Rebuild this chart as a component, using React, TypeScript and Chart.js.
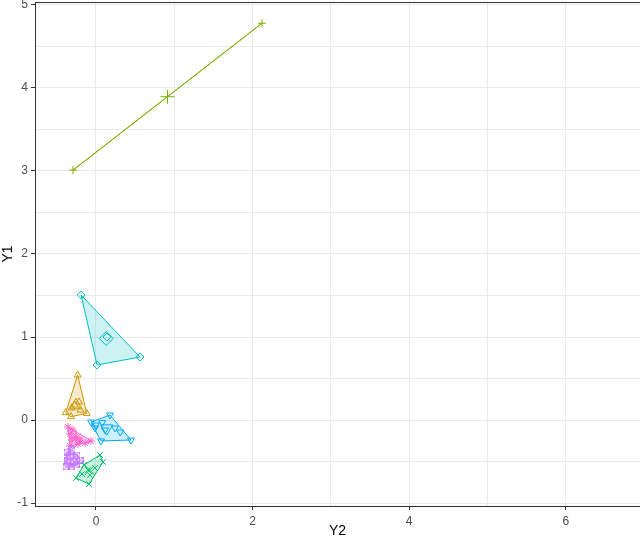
import { useEffect, useRef } from 'react';
import { Chart, registerables } from 'chart.js';
Chart.register(...registerables);

// Axis ticks
const xMajorTicks = [0, 2, 4, 6];
const xGridTicks = [0, 1, 2, 3, 4, 5, 6];
const yMajorTicks = [-1, 0, 1, 2, 3, 4, 5];
const yGridTicks = [-1, -0.5, 0, 0.5, 1, 1.5, 2, 2.5, 3, 3.5, 4, 4.5, 5];

// Clusters (Y2 = horizontal, Y1 = vertical)
const clusterIds = ['2', '3', '4', '5', '6', '7', '8'];
const clusterColors = ['#CD9600', '#7CAE00', '#00BE67', '#00BFC4', '#00A9FF', '#C77CFF', '#FF61CC'];
const clusterShapes = ['triangle', 'cross', 'crossRot', 'rectRot', 'triangleDown', 'rectCross', 'star'];

const c2Y2 = [-0.234, -0.387, -0.119, -0.319, -0.268, -0.217, -0.31, -0.2];
const c2Y1 = [0.542, 0.088, 0.08, 0.04, 0.18, 0.217, 0.145, 0.12];

const c3Y2 = [-0.294, 2.12];
const c3Y1 = [3.01, 4.78];

const c4Y2 = [0.051, 0.089, -0.089, -0.255, -0.153, -0.102, -0.013, -0.077, -0.179];
const c4Y1 = [-0.422, -0.506, -0.771, -0.699, -0.542, -0.602, -0.578, -0.663, -0.651];

const c5Y2 = [-0.19, 0.562, 0.013, 0.14];
const c5Y1 = [1.506, 0.759, 0.663, 1.0];

const c6Y2 = [-0.064, 0.179, 0.447, 0.064, 0.0, 0.115, 0.243, -0.013, 0.31, 0.08];
const c6Y1 = [-0.024, 0.06, -0.241, -0.253, -0.06, -0.12, -0.096, -0.096, -0.145, -0.03];

const c7Y2 = [-0.37, -0.307, -0.243, -0.358, -0.281, -0.204, -0.383, -0.307, -0.332, -0.255];
const c7Y1 = [-0.386, -0.361, -0.422, -0.482, -0.506, -0.482, -0.566, -0.566, -0.434, -0.542];

const c8Y2 = [-0.358, -0.332, -0.307, -0.268, -0.204, -0.14, -0.064, -0.332, -0.23, -0.294];
const c8Y1 = [-0.084, -0.169, -0.241, -0.205, -0.241, -0.277, -0.253, -0.313, -0.289, -0.12];

const clusterY2 = [c2Y2, c3Y2, c4Y2, c5Y2, c6Y2, c7Y2, c8Y2];
const clusterY1 = [c2Y1, c3Y1, c4Y1, c5Y1, c6Y1, c7Y1, c8Y1];

const xTitle = 'Y2';
const yTitle = 'Y1';

type P = { x: number; y: number };

function convexHull(pts: P[]): P[] {
  const p = [...pts].sort((a, b) => (a.x === b.x ? a.y - b.y : a.x - b.x));
  if (p.length < 3) return p;
  const cross = (o: P, a: P, b: P) => (a.x - o.x) * (b.y - o.y) - (a.y - o.y) * (b.x - o.x);
  const lower: P[] = [];
  for (const q of p) {
    while (lower.length >= 2 && cross(lower[lower.length - 2], lower[lower.length - 1], q) <= 0) lower.pop();
    lower.push(q);
  }
  const upper: P[] = [];
  for (let i = p.length - 1; i >= 0; i--) {
    const q = p[i];
    while (upper.length >= 2 && cross(upper[upper.length - 2], upper[upper.length - 1], q) <= 0) upper.pop();
    upper.push(q);
  }
  upper.pop();
  lower.pop();
  return lower.concat(upper);
}

function hexA(hex: string, a: number) {
  const r = parseInt(hex.slice(1, 3), 16);
  const g = parseInt(hex.slice(3, 5), 16);
  const b = parseInt(hex.slice(5, 7), 16);
  return `rgba(${r},${g},${b},${a})`;
}

function makeRectCross(color: string, size: number) {
  const c = document.createElement('canvas');
  c.width = size;
  c.height = size;
  const g = c.getContext('2d')!;
  g.strokeStyle = color;
  g.lineWidth = 1;
  g.strokeRect(0.5, 0.5, size - 1, size - 1);
  g.beginPath();
  g.moveTo(0.5, 0.5);
  g.lineTo(size - 0.5, size - 0.5);
  g.moveTo(size - 0.5, 0.5);
  g.lineTo(0.5, size - 0.5);
  g.stroke();
  return c;
}

export default function App() {
  const ref = useRef<HTMLCanvasElement>(null);

  useEffect(() => {
    const canvas = ref.current!;
    const points = clusterY2.map((xs, i) => xs.map((x, j) => ({ x, y: clusterY1[i][j] })));
    const centers = points.map((pts) => ({
      x: pts.reduce((s, p) => s + p.x, 0) / pts.length,
      y: pts.reduce((s, p) => s + p.y, 0) / pts.length,
    }));

    const datasets: any[] = [];
    clusterIds.forEach((id, i) => {
      const color = clusterColors[i];
      const shape = clusterShapes[i];
      const mk = (sz: number) => {
        if (shape === 'rectCross') return { pointStyle: makeRectCross(color, sz), pointRotation: 0 };
        if (shape === 'triangleDown') return { pointStyle: 'triangle', pointRotation: 180 };
        return { pointStyle: shape, pointRotation: 0 };
      };
      datasets.push({
        label: 'Cluster ' + id,
        data: points[i],
        borderColor: color,
        backgroundColor: 'rgba(0,0,0,0)',
        borderWidth: 1,
        pointRadius: 4,
        ...mk(7),
      });
      datasets.push({
        label: 'Center ' + id,
        data: [centers[i]],
        borderColor: color,
        backgroundColor: 'rgba(0,0,0,0)',
        borderWidth: 1,
        pointRadius: 7,
        ...mk(11),
      });
    });

    const hullPlugin = {
      id: 'hulls',
      beforeDatasetsDraw(chart: any) {
        const { ctx, scales } = chart;
        const xs = scales.x;
        const ys = scales.y;
        ctx.save();
        ctx.beginPath();
        ctx.rect(chart.chartArea.left, chart.chartArea.top, chart.chartArea.right - chart.chartArea.left, chart.chartArea.bottom - chart.chartArea.top);
        ctx.clip();
        points.forEach((pts, i) => {
          const hull = convexHull(pts);
          ctx.beginPath();
          hull.forEach((p, k) => {
            const px = xs.getPixelForValue(p.x);
            const py = ys.getPixelForValue(p.y);
            if (k === 0) ctx.moveTo(px, py);
            else ctx.lineTo(px, py);
          });
          ctx.closePath();
          ctx.fillStyle = hexA(clusterColors[i], 0.2);
          ctx.fill();
          ctx.strokeStyle = clusterColors[i];
          ctx.lineWidth = 1;
          ctx.stroke();
        });
        ctx.restore();
      },
      afterDraw(chart: any) {
        const { ctx, chartArea } = chart;
        ctx.save();
        ctx.strokeStyle = '#333333';
        ctx.lineWidth = 1;
        ctx.beginPath();
        ctx.moveTo(chartArea.left, chartArea.top + 0.5);
        ctx.lineTo(chartArea.right, chartArea.top + 0.5);
        ctx.stroke();
        ctx.restore();
      },
    };

    const tickFont = { family: 'Liberation Sans, Arial, sans-serif', size: 12 };
    const titleFont = { family: 'Liberation Sans, Arial, sans-serif', size: 14 };

    const chart = new Chart(canvas, {
      type: 'scatter',
      data: { datasets },
      plugins: [hullPlugin],
      options: {
        animation: false,
        responsive: false,
        layout: { autoPadding: false, padding: { top: 2, right: 0, left: 0, bottom: 0 } },
        plugins: { legend: { display: false }, tooltip: { enabled: false } },
        scales: {
          x: {
            type: 'linear',
            min: -0.779,
            max: 6.948,
            afterBuildTicks: (s: any) => {
              s.ticks = xGridTicks.map((v) => ({ value: v }));
            },
            afterFit: (s: any) => {
              s.height = 34;
              s.paddingLeft = 0;
              s.paddingRight = 0;
            },
            ticks: {
              autoSkip: false,
              maxRotation: 0,
              padding: 4,
              color: '#4D4D4D',
              font: tickFont,
              callback: (v: any) => (xMajorTicks.includes(Number(v)) ? String(v) : ''),
            },
            grid: {
              color: '#EBEBEB',
              lineWidth: 1,
              tickLength: 4,
              tickColor: (c: any) => (xMajorTicks.includes(c.tick?.value) ? '#333333' : 'rgba(0,0,0,0)'),
            },
            border: { display: true, color: '#333333', width: 1 },
            title: { display: true, text: xTitle, color: '#000000', font: titleFont, padding: { top: 0, bottom: 0 } },
          },
          y: {
            type: 'linear',
            min: -1.036,
            max: 5.036,
            afterBuildTicks: (s: any) => {
              s.ticks = yGridTicks.map((v) => ({ value: v }));
            },
            afterFit: (s: any) => {
              s.width = 35;
              s.paddingTop = 0;
              s.paddingBottom = 0;
            },
            ticks: {
              autoSkip: false,
              padding: 3,
              color: '#4D4D4D',
              font: tickFont,
              callback: (v: any) => (yMajorTicks.includes(Number(v)) ? String(v) : ''),
            },
            grid: {
              color: '#EBEBEB',
              lineWidth: 1,
              tickLength: 4,
              tickColor: (c: any) => (yMajorTicks.includes(c.tick?.value) ? '#333333' : 'rgba(0,0,0,0)'),
            },
            border: { display: true, color: '#333333', width: 1 },
            title: { display: true, text: yTitle, color: '#000000', font: titleFont, padding: { top: 0, bottom: 1 } },
          },
        },
      } as any,
    });
    return () => chart.destroy();
  }, []);

  return (
    <div style={{ position: 'absolute', left: 0, top: 0, width: 640, height: 540, background: '#fff' }}>
      <canvas ref={ref} width={640} height={540} />
    </div>
  );
}
